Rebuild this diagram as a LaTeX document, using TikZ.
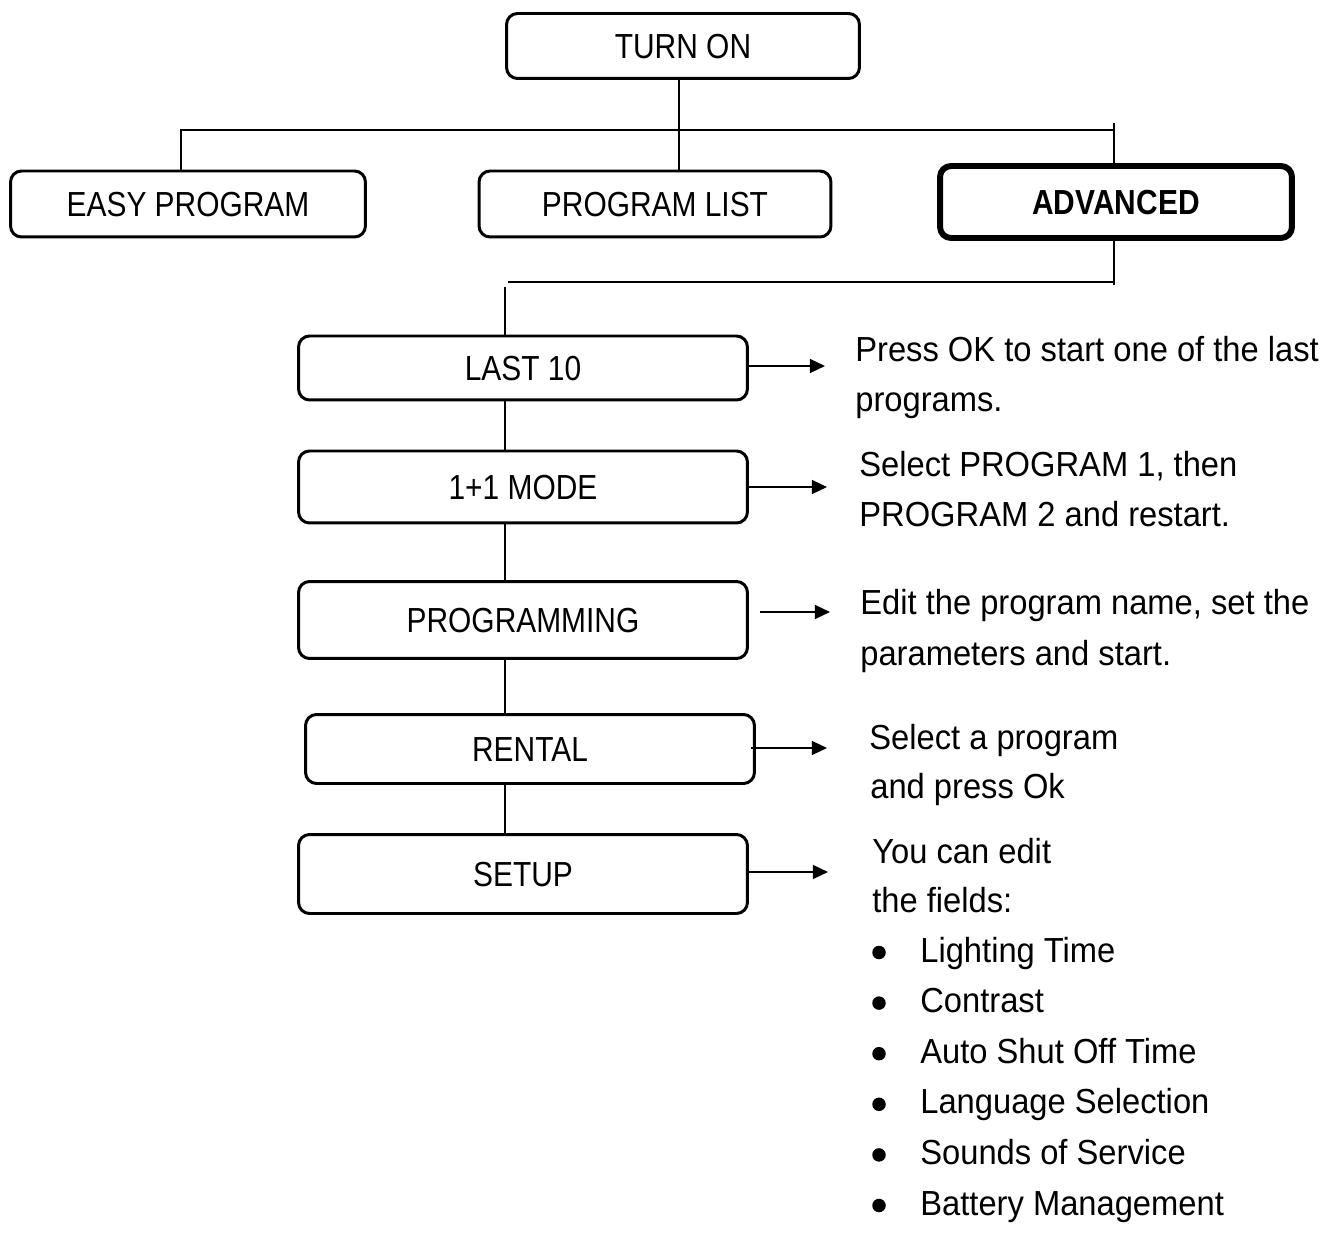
\documentclass[tikz,border=0pt]{standalone}
\usepackage{fontspec}
\setmainfont{Liberation Sans}[FakeStretch=0.94]
\newfontfamily\labelfamily{Liberation Sans}[FakeStretch=0.86]
\usetikzlibrary{arrows.meta}
\newcommand{\menufont}{\fontsize{19.8}{28.5}\selectfont}
\tikzset{
  menubox/.style={draw,line width=1.7pt,rounded corners=0.22cm,minimum width=8.98cm,minimum height=1.28cm,
    text height=0.5cm,text depth=0pt,inner sep=0pt,font=\labelfamily\menufont},
  link/.style={line width=0.8pt},
  arr/.style={line width=0.8pt,-{Triangle[length=0.3cm,width=0.28cm]}},
  note/.style={anchor=base west,inner sep=0pt,font=\menufont},
  dot/.style={circle,fill,inner sep=0pt,minimum size=0.27cm}
}
\begin{document}
\begin{tikzpicture}[x=0.02cm,y=-0.02cm]
\useasboundingbox (0,0) rectangle (1343,1253);
%Top level
\node[menubox,minimum width=7.06cm,minimum height=1.3cm] (turnon) at (683,46) {TURN ON};
\node[menubox,minimum width=7.1cm,minimum height=1.32cm] (easy) at (188,204) {EASY PROGRAM};
\node[menubox,minimum width=7.04cm,minimum height=1.32cm] (proglist) at (655,204) {PROGRAM LIST};
\node[menubox,line width=3.4pt,minimum width=7.04cm,minimum height=1.44cm,font=\labelfamily\menufont\bfseries] (adv) at (1116,202) {ADVANCED};
%Branches
\coordinate (bus) at (679,130);
\coordinate (busL) at (181,130);
\coordinate (busR) at (1114,130);
\draw[link] (turnon.south -| bus) -- (proglist.north -| bus);
\draw[link] (easy.north -| busL) -- (busL) -- (busR);
\draw[link] (busR) ++(0,-7) -- (adv.north -| busR);
%Advanced menu
\node[menubox] (last) at (523,368) {LAST 10};
\node[menubox,minimum height=1.44cm] (mode) at (523,487) {1+1 MODE};
\node[menubox,minimum height=1.54cm] (prog) at (523,620) {PROGRAMMING};
\node[menubox,minimum height=1.38cm] (rental) at (530,749) {RENTAL};
\node[menubox,minimum height=1.58cm] (setup) at (523,874) {SETUP};
\coordinate (subR) at (1114,282);
\coordinate (subL) at (508,282);
\coordinate (subD) at (505,287);
\draw[link] (adv.south -| subR) -- ++(0,44);
\draw[link] (subR) -- (subL);
\draw[link] (subD) -- (last.north -| subD);
\foreach \a/\b in {last/mode,mode/prog,prog/rental,rental/setup}
  \draw[link] (\a.south -| subD) -- (\b.north -| subD);
%Arrows to the notes
\foreach \n/\dx/\dy/\len in {last/0/-2/76,mode/0/0/78,prog/11/-8/70,rental/-5/-1/76,setup/0/-2/79}
  \draw[arr] ([shift={(\dx,\dy)}]\n.east) -- ++(\len,0);
%Notes
\node[note] (lastA) at (855,362) {Press OK to start one of the last};
\node[note] (lastB) at (855,412) {programs.};
\node[note] (modeA) at (859,477) {Select PROGRAM 1, then};
\node[note] (modeB) at (859,527) {PROGRAM 2 and restart.};
\node[note] (progA) at (860,615) {Edit the program name, set the};
\node[note] (progB) at (860,665) {parameters and start.};
\node[note] (rentalA) at (869,749) {Select a program};
\node[note] (rentalB) at (870,798) {and press Ok};
\node[note] (setupA) at (872,863) {You can edit};
\node[note] (setupB) at (872,912) {the fields:};
\foreach \t [count=\i] in {Lighting Time,Contrast,Auto Shut Off Time,Language Selection,Sounds of Service,Battery Management}{
  \node[dot] (dot\i) at (879,{901.9+50.6*\i}) {};
  \node[note] (field\i) at (920,{911.4+50.6*\i}) {\t};
}
\end{tikzpicture}
\end{document}
